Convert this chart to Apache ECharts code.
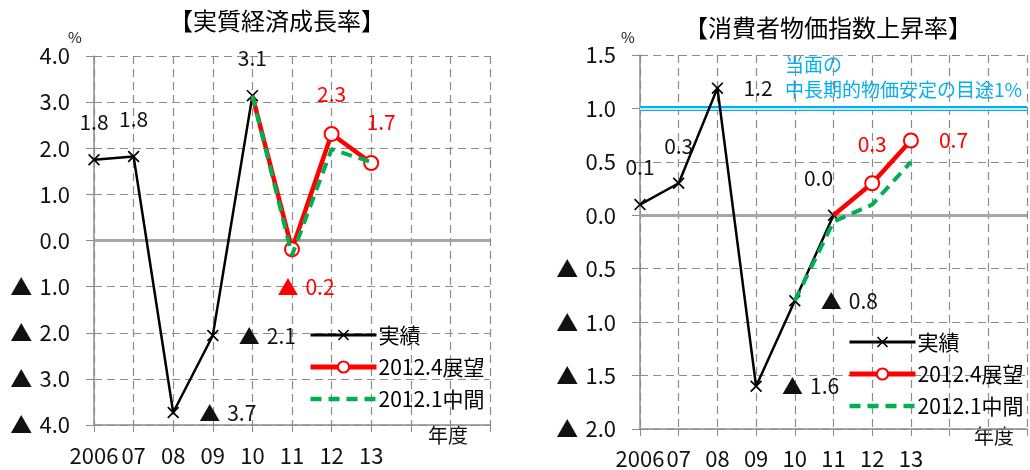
<!DOCTYPE html>
<html>
<head>
<meta charset="utf-8">
<script src="https://cdn.jsdelivr.net/npm/echarts@6/dist/echarts.min.js"></script>
<style>
  html, body { margin: 0; padding: 0; background: #fff; }
  #main { width: 1030px; height: 470px; }
</style>
</head>
<body>
<div id="main"></div>
<script>
// 年度
var years = ['2006', '07', '08', '09', '10', '11', '12', '13', '', '', ''];

// 実質経済成長率 (%)
var gdpActual = [1.75, 1.82, -3.73, -2.06, 3.14];
var gdpApr = [null, null, null, null, 3.14, -0.19, 2.31, 1.68];   // 2012.4展望
var gdpJan = [null, null, null, null, 3.14, -0.32, 1.98, 1.70];   // 2012.1中間

// 消費者物価指数上昇率 (%)
var cpiActual = [0.1, 0.3, 1.19, -1.6, -0.8, 0.0];
var cpiApr = [null, null, null, null, null, 0.0, 0.3, 0.7];
var cpiJan = [null, null, null, null, -0.8, -0.06, 0.1, 0.5];
var cpiTarget = 1.0;

// ラベルの置き場所
var gdpActualLbl = ['top', 'top', 'right', 'right', 'top'];
var gdpAprLbl = ['', '', '', '', '', 'below', 'top', 'topright'];
var cpiActualLbl = ['top', 'top', 'right', 'right', 'right', 'topleft'];
var cpiAprLbl = ['', '', '', '', '', '', 'top', 'right'];

var LBL = {
  top: { position: 'top', distance: 21 },
  right: { position: 'right', distance: 20 },
  below: { position: 'bottom', distance: 19, offset: [14, 0] },
  topright: { position: 'top', distance: 22, offset: [10, 0] },
  topleft: { position: 'top', distance: 21, offset: [-15, 0] }
};

var FONT = '"Noto Sans CJK JP", "Noto Sans", sans-serif';
var BLACK = '#000';
var RED = '#ff0000';
var GREEN = '#00b050';
var BLUE = '#00b0f0';
var GRIDC = '#8c8c8c';

function fmt(v) {
  return v < 0 ? '▲\u2004' + (-v).toFixed(1) : v.toFixed(1);
}

// 値の配列からデータ項目を作る（最初の点はマーカーなしにできる）
function items(values, lbls, color, hideFirst) {
  var first = true;
  return values.map(function (v, i) {
    if (v == null) return null;
    var it = { value: v };
    if (hideFirst && first) it.symbol = 'none';
    first = false;
    var key = lbls ? lbls[i] : '';
    if (key) {
      var l = LBL[key];
      it.label = {
        show: true, position: l.position, distance: l.distance,
        offset: l.offset || [0, 0], color: color, fontSize: 21, fontFamily: FONT,
        formatter: function (p) { return fmt(p.value); }
      };
    }
    return it;
  });
}

var CROSS = 'path://M0,1L1,0L10,9L9,10Z M9,0L10,1L1,10L0,9Z';

function xAxisCfg(gi, margin) {
  return {
    type: 'category', gridIndex: gi, data: years, boundaryGap: false,
    axisLine: { onZero: false, lineStyle: { color: GRIDC, width: 1.5 } },
    axisTick: { show: true, length: 7, lineStyle: { color: GRIDC } },
    axisLabel: { color: '#111', fontSize: 22, fontFamily: FONT, margin: margin, interval: 0 },
    splitLine: { show: true, lineStyle: { color: GRIDC, type: [8, 5], width: 1.2 } }
  };
}
function yAxisCfg(gi, min, max, step) {
  return {
    type: 'value', gridIndex: gi, min: min, max: max, interval: step,
    axisLine: { show: true, lineStyle: { color: GRIDC, width: 1.5 } },
    axisTick: { show: true, length: 8, lineStyle: { color: GRIDC } },
    axisLabel: { color: '#111', fontSize: 22, fontFamily: FONT, margin: 24, formatter: fmt },
    splitLine: { show: true, lineStyle: { color: GRIDC, type: [8, 5], width: 1.2 } }
  };
}

function actualSeries(gi, data, lbls, markData) {
  return {
    name: '実績', type: 'line', xAxisIndex: gi, yAxisIndex: gi, z: 3,
    data: items(data, lbls, '#111', false),
    symbol: CROSS, symbolSize: 12,
    itemStyle: { color: BLACK },
    lineStyle: { color: BLACK, width: 2.5 },
    markLine: {
      z: 1, silent: true, symbol: 'none', label: { show: false },
      data: markData
    }
  };
}
function aprSeries(gi, data, lbls) {
  return {
    name: '2012.4展望', type: 'line', xAxisIndex: gi, yAxisIndex: gi, z: 4,
    data: items(data, lbls, RED, true),
    symbol: 'emptyCircle', symbolSize: 14,
    itemStyle: { color: RED, borderWidth: 1.8 },
    lineStyle: { color: RED, width: 4.5 }
  };
}
function janSeries(gi, data) {
  return {
    name: '2012.1中間', type: 'line', xAxisIndex: gi, yAxisIndex: gi, z: 5,
    data: items(data, null, GREEN, false),
    symbol: 'none',
    itemStyle: { color: GREEN },
    lineStyle: { color: GREEN, width: 4, type: [11, 7] }
  };
}

function legendCfg(x, y) {
  return {
    orient: 'vertical', left: x, top: y, itemWidth: 66, itemHeight: 14,
    itemGap: 10, padding: 0,
    data: [
      { name: '実績', lineStyle: { width: 3, color: BLACK } },
      { name: '2012.4展望', lineStyle: { width: 5, color: RED }, itemStyle: { borderWidth: 1.8 } },
      { name: '2012.1中間', lineStyle: { width: 4.5, color: GREEN, type: [11, 7] }, itemStyle: { opacity: 0 } }
    ],
    textStyle: { fontSize: 21, fontFamily: FONT, color: '#000', lineHeight: 22, padding: [0, 0, 0, -3] }
  };
}

var chart = echarts.init(document.getElementById('main'));
chart.setOption({
  animation: false,
  backgroundColor: '#fff',
  textStyle: { fontFamily: FONT },
  title: [
    { text: '【実質経済成長率】', left: 277, top: 9, textAlign: 'center', padding: 0,
      textStyle: { fontSize: 24, fontWeight: 'normal', color: '#000', fontFamily: FONT } },
    { text: '【消費者物価指数上昇率】', left: 828, top: 16, textAlign: 'center', padding: 0,
      textStyle: { fontSize: 24, fontWeight: 'normal', color: '#000', fontFamily: FONT } }
  ],
  grid: [
    { left: 94, top: 56, width: 396, height: 369 },
    { left: 640, top: 55, width: 394, height: 374 }
  ],
  xAxis: [xAxisCfg(0, 20), xAxisCfg(1, 19)],
  yAxis: [yAxisCfg(0, -4, 4, 1), yAxisCfg(1, -2, 1.5, 0.5)],
  legend: [legendCfg(308, 324), legendCfg(847, 331)],
  graphic: [
    { type: 'text', left: 68, top: 30, style: { text: '%', fontSize: 15, fill: '#111', fontFamily: FONT } },
    { type: 'text', left: 621, top: 30, style: { text: '%', fontSize: 15, fill: '#111', fontFamily: FONT } },
    { type: 'text', left: 428, top: 425, style: { text: '年度', fontSize: 20, fill: '#111', fontFamily: FONT } },
    { type: 'text', left: 974, top: 426, style: { text: '年度', fontSize: 20, fill: '#111', fontFamily: FONT } },
    { type: 'text', left: 785, top: 55, style: { text: '当面の', fontSize: 19, fill: BLUE, fontFamily: FONT } },
    { type: 'text', left: 785, top: 80, style: { text: '中長期的物価安定の目途1%', fontSize: 19, fill: BLUE, fontFamily: FONT } }
  ],
  series: [
    actualSeries(0, gdpActual, gdpActualLbl, [
      { yAxis: 0, lineStyle: { color: '#a6a6a6', width: 3, type: 'solid' } }
    ]),
    aprSeries(0, gdpApr, gdpAprLbl),
    janSeries(0, gdpJan),
    actualSeries(1, cpiActual, cpiActualLbl, [
      { yAxis: 0, lineStyle: { color: '#a6a6a6', width: 3, type: 'solid' } },
      { yAxis: cpiTarget, lineStyle: { color: BLUE, width: 5, type: 'solid' } },
      { yAxis: cpiTarget, lineStyle: { color: '#fff', width: 1.6, type: 'solid' } }
    ]),
    aprSeries(1, cpiApr, cpiAprLbl),
    janSeries(1, cpiJan)
  ]
});
</script>
</body>
</html>
